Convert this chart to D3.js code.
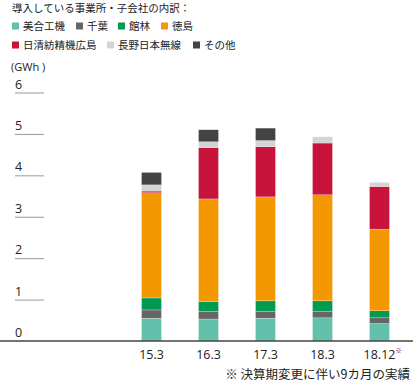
<!DOCTYPE html>
<html><head><meta charset="utf-8">
<script src="https://cdn.jsdelivr.net/npm/d3@7"></script>
<style>
body{margin:0;background:#fff;}
svg{display:block;}
text{font-family:"Noto Sans CJK JP","Noto Sans",sans-serif;fill:#222;}
.num{font-family:"Open Sans","Noto Sans",sans-serif;}
</style></head>
<body><svg id="c" width="413" height="389"></svg>
<script>
const categories = ["15.3","16.3","17.3","18.3","18.12"];
const seriesNames = ["美合工機","千葉","館林","徳島","日清紡精機広島","長野日本無線","その他"];
const colors = ["#63c1ab","#666666","#009a50","#f39800","#c8133b","#d4d4d4","#444242"];
const mia = [0.55,0.53,0.55,0.56,0.42];
const chiba = [0.20,0.18,0.17,0.16,0.14];
const tatebayashi = [0.29,0.24,0.25,0.25,0.17];
const tokushima = [2.54,2.48,2.51,2.56,1.97];
const hiroshima = [0.04,1.24,1.21,1.25,1.03];
const nagano = [0.15,0.14,0.15,0.15,0.10];
const other = [0.30,0.29,0.30,0.00,0.00];
const yTicks = [0,1,2,3,4,5,6];

const seriesVals = [mia,chiba,tatebayashi,tokushima,hiroshima,nagano,other];
const rows = categories.map((c,i)=>{const r={cat:c};seriesNames.forEach((s,j)=>r[s]=seriesVals[j][i]);return r;});
const stack = d3.stack().keys(seriesNames)(rows);

const svg = d3.select("#c");
const y = d3.scaleLinear().domain([0,6]).range([341,92.5]);
const x = d3.scaleBand().domain(categories).range([123,408]).paddingInner(0.65).paddingOuter(0.325);
const color = d3.scaleOrdinal().domain(seriesNames).range(colors);

// title & legend
svg.append("text").attr("x",12).attr("y",12).attr("font-size",10.5).text("導入している事業所・子会社の内訳：");
const legendPos = [[12,26],[76,26],[118,26],[161,26],[12,45],[107,45],[193,45]];
seriesNames.forEach((s,i)=>{
  const [lx,ly]=legendPos[i];
  svg.append("rect").attr("x",lx).attr("y",ly-3.5).attr("width",7).attr("height",7).attr("fill",color(s));
  svg.append("text").attr("x",lx+11).attr("y",ly+4).attr("font-size",10.5).text(s);
});

// y axis
svg.append("text").attr("class","num").attr("x",11).attr("y",71).attr("font-size",11).text("(GWh )");
const yAxis = d3.axisLeft(y).tickValues(yTicks.filter(d=>d>0)).tickSize(29).tickFormat("");
const ga = svg.append("g").attr("transform","translate(44,0)").call(yAxis);
ga.select(".domain").remove();
ga.selectAll(".tick line").attr("stroke","#999").attr("stroke-width",1);
svg.selectAll(".ylab").data(yTicks).join("text").attr("class","num ylab")
  .attr("x",15).attr("y",d=>y(d)-4).attr("font-size",12.5).text(d=>d);

// bars
svg.append("g").selectAll("g").data(stack).join("g").attr("fill",d=>color(d.key))
  .selectAll("rect").data(d=>d).join("rect")
  .attr("x",d=>x(d.data.cat)).attr("width",x.bandwidth())
  .attr("y",d=>y(d[1])).attr("height",d=>Math.max(0,y(d[0])-y(d[1])))
  .attr("stroke","#fff").attr("stroke-opacity",0.5).attr("stroke-width",0.5);

// baseline
svg.append("line").attr("x1",0).attr("x2",413).attr("y1",341).attr("y2",341).attr("stroke","#444").attr("stroke-width",1.5);

// x labels
svg.selectAll(".xlab").data(categories).join("text").attr("class","num xlab")
  .attr("x",d=>x(d)+x.bandwidth()/2).attr("y",359).attr("font-size",12.5).attr("text-anchor","middle").text(d=>d);
svg.append("text").attr("x",x("18.12")+x.bandwidth()/2+16).attr("y",353).attr("font-size",6).attr("font-weight","bold").text("※");

// footnote
svg.append("text").attr("x",410).attr("y",379).attr("font-size",12.5).attr("text-anchor","end").text("※ 決算期変更に伴い9カ月の実績");
</script></body></html>
